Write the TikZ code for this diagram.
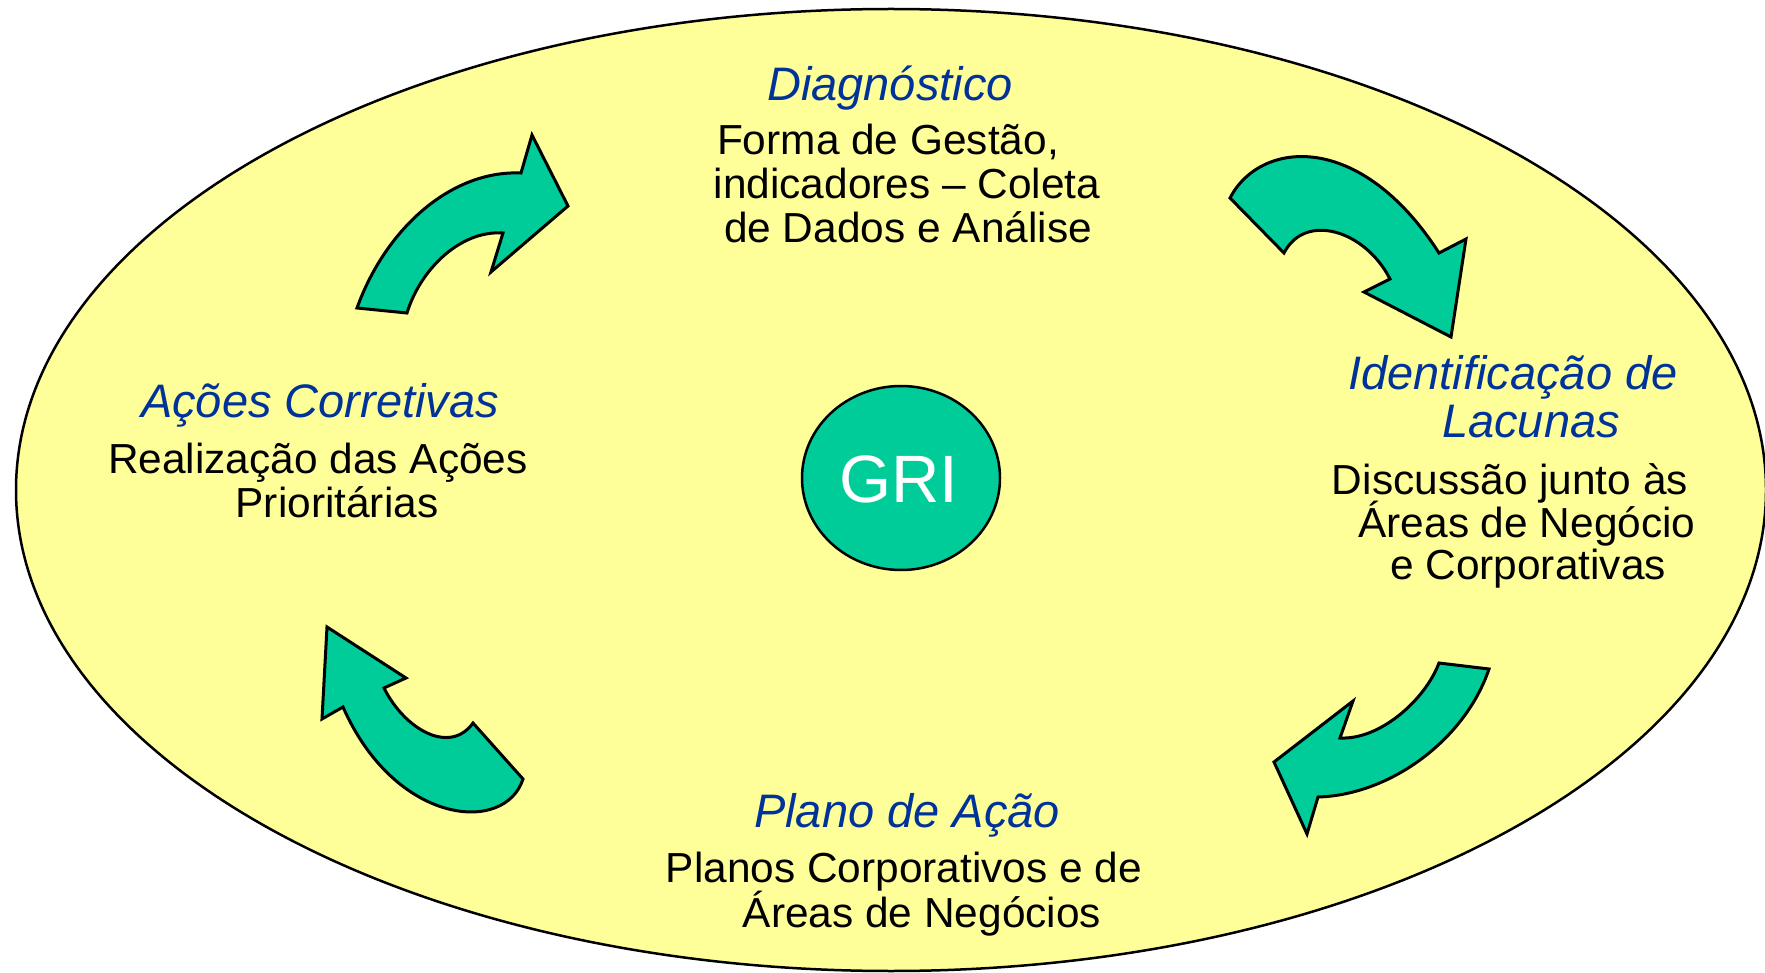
\documentclass[tikz,border=0pt]{standalone}
\usepackage{fontspec}
\setmainfont{Liberation Sans}
\newfontfamily\ttlfont{Liberation Sans}
\newfontfamily\bdyfont[FakeStretch=1.01]{Liberation Sans}
\usetikzlibrary{shapes.geometric}
\definecolor{bgyellow}{HTML}{FFFF99}
\definecolor{grigreen}{HTML}{00CC99}
\definecolor{ttlblue}{HTML}{003399}
\tikzset{
  ttl/.style={inner sep=0pt, anchor=base, text=ttlblue, font=\ttlfont\itshape\fontsize{47pt}{50pt}\selectfont},
  bdy/.style={inner sep=0pt, anchor=base, text=black, font=\bdyfont\fontsize{42pt}{44pt}\selectfont},
  bigarrow/.style={draw=black, line width=3pt, fill=grigreen, line join=miter},
}
\begin{document}
\begin{tikzpicture}[x=1pt,y=-1pt]
\useasboundingbox (0,0) rectangle (1765,973);
% background ellipse
\draw[line width=2.5pt, fill=bgyellow] (891,490) ellipse [x radius=875pt, y radius=481pt];

% central GRI
\node[ellipse, draw=black, line width=2.5pt, fill=grigreen, minimum width=198pt, minimum height=184pt, inner sep=0pt] (gri) at (901,478) {};
\node[inner sep=0pt, anchor=base, text=white, font=\fontsize{67pt}{70pt}\selectfont] (gritext) at (899,502) {GRI};

% arrow 1 (top-left, pointing right)
\draw[bigarrow] (357,308) .. controls (385,230) and (450,170) .. (521,173)
  -- (532,135) -- (568,206) -- (491,272) -- (503,233)
  .. controls (460,230) and (420,270) .. (407,313) -- cycle;

% arrow 2 (top-right, pointing down-right)
\draw[bigarrow] (1230,198) .. controls (1260,140) and (1360,130) .. (1439,253)
  -- (1466,239) -- (1451,337) -- (1364,292) -- (1390,279)
  .. controls (1365,230) and (1305,212) .. (1284,253) -- cycle;

% arrow 3 (bottom-right, pointing down-left)
\draw[bigarrow] (1439,663) -- (1489,669) .. controls (1465,740) and (1390,795) .. (1318,797)
  -- (1307,834) -- (1274,762) -- (1353,701) -- (1340,738)
  .. controls (1380,740) and (1425,700) .. (1439,663) -- cycle;

% arrow 4 (bottom-left, pointing up-left)
\draw[bigarrow] (327,627) -- (406,678) -- (384,688)
  .. controls (405,730) and (450,755) .. (473,723)
  -- (523,779) .. controls (505,835) and (395,825) .. (343,707)
  -- (322,719) -- cycle;

% Diagnostico
\node[ttl] (diagT) at (890,101) {Diagnóstico};
\node[bdy] (diag1) at (888,155) {Forma de Gestão,};
\node[bdy] (diag2) at (907,199) {indicadores – Coleta};
\node[bdy] (diag3) at (908,243) {de Dados e Análise};

% Identificacao de Lacunas
\node[ttl] (idT1) at (1513,390) {Identificação de};
\node[ttl] (idT2) at (1531,438) {Lacunas};
\node[bdy] (id1) at (1510,494) {Discussão junto às};
\node[bdy] (id2) at (1527,537) {Áreas de Negócio};
\node[bdy] (id3) at (1528,579) {e Corporativas};

% Acoes Corretivas
\node[ttl] (acT) at (320,418) {Ações Corretivas};
\node[bdy] (ac1) at (318,473) {Realização das Ações};
\node[bdy] (ac2) at (337,517) {Prioritárias};

% Plano de Acao
\node[ttl] (plT) at (907,827) {Plano de Ação};
\node[bdy] (pl1) at (904,882) {Planos Corporativos e de};
\node[bdy] (pl2) at (922,927) {Áreas de Negócios};
\end{tikzpicture}
\end{document}
